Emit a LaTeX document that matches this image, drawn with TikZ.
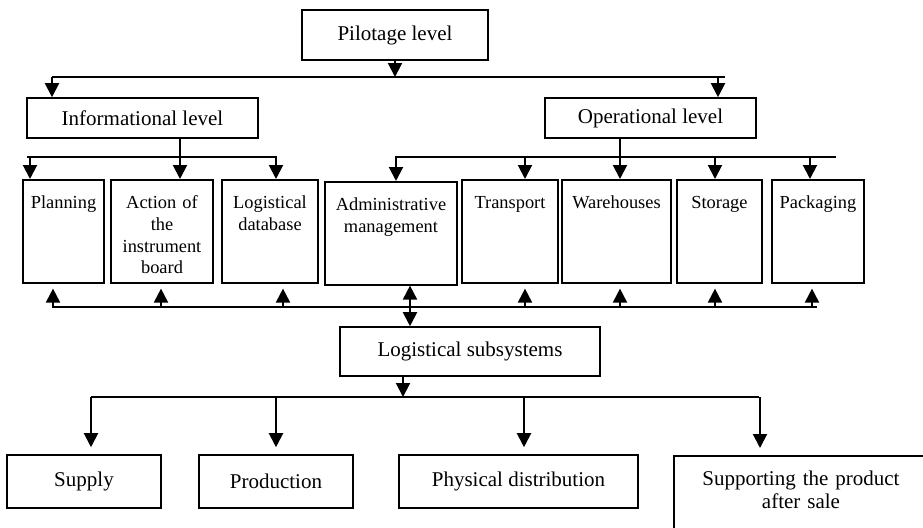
\documentclass[tikz,border=0pt]{standalone}
\usepackage{fontspec}
\setmainfont{Liberation Serif}
\usetikzlibrary{arrows.meta}

\tikzset{
  lvl/.style={draw, line width=0.8pt, align=center, inner sep=0pt,
    font=\fontsize{10.5}{11.5}\selectfont},
  unit/.style={draw, line width=0.8pt, anchor=north, align=center,
    inner xsep=1pt, inner ysep=4pt, text height=10.5pt, text depth=33pt,
    font=\fontsize{9.2}{10.8}\selectfont},
  bus/.style={line width=1pt},
  arr/.style={line width=1pt, -{Triangle[width=7pt,length=7pt]}},
}

\begin{document}
\begin{tikzpicture}[x=0.5pt,y=-0.5pt]
\clip (0,0) rectangle (923,527);

% levels
\node[lvl, minimum width=93pt, minimum height=25pt] (pilot) at (395,35) {Pilotage level};
\node[lvl, minimum width=115.5pt, minimum height=20pt] (info) at (142.5,118) {Informational level};
\node[lvl, minimum width=105.5pt, minimum height=20pt] (oper) at (650.5,118) {Operational level};

% units
\node[unit, text width=38.5pt] (plan) at (63.5,179) {Planning};
\node[unit, text width=49pt] (action) at (162,179) {Action of\\the\\instrument\\board};
\node[unit, text width=46pt] (logdb) at (270,179) {Logistical\\database};
\node[unit, text width=64pt] (admin) at (391,181) {Administrative\\management};
\node[unit, text width=46pt] (transp) at (510,179) {Transport};
\node[unit, text width=52.5pt] (wareh) at (616.5,179) {Warehouses};
\node[unit, text width=40.5pt] (stor) at (719.5,179) {Storage};
\node[unit, text width=44pt] (pack) at (818,179) {Packaging};

% subsystems
\node[lvl, minimum width=130pt, minimum height=24.5pt] (logsub) at (470,351.5) {Logistical subsystems};
\node[lvl, minimum width=77pt, minimum height=26.5pt] (supply) at (84,481.5) {Supply};
\node[lvl, minimum width=77pt, minimum height=26.5pt] (prod) at (276,481.5) {Production};
\node[lvl, minimum width=119.5pt, minimum height=26.5pt] (phys) at (518.5,481.5) {Physical distribution};
\node[lvl, anchor=north, text width=125pt, inner xsep=1pt, inner ysep=5pt,
  text height=10pt, text depth=50pt] (after) at (801,455) {Supporting the product\\after sale};

% pilotage bus
\coordinate (pb1) at (52,77);
\coordinate (pb2) at (725,77);
\coordinate (pb3) at (718,77);
\draw[bus] (pb1) -- (pb2);
\draw[arr] (pilot.south) -- (pilot.south |- pb1);
\draw[arr] (pb1) -- (pb1 |- info.north);
\draw[arr] (pb3) -- (pb3 |- oper.north);

% informational bus
\coordinate (ib1) at (27,157);
\coordinate (ib2) at (277,157);
\coordinate (ic) at (180,157);
\draw[bus] (ib1) -- (ib2);
\draw[arr] (ic |- info.south) -- (ic |- action.north);
\foreach \x/\n in {30/plan,276/logdb}{
  \coordinate (t) at (\x,157);
  \draw[arr] (t) -- (t |- \n.north);
}

% operational bus
\coordinate (ob1) at (395,157);
\coordinate (ob2) at (836,157);
\coordinate (oc) at (620,157);
\draw[bus] (ob1) -- (ob2);
\draw[arr] (oc |- oper.south) -- (oc |- wareh.north);
\foreach \x/\n in {396/admin,525/transp,715/stor,810/pack}{
  \coordinate (t) at (\x,157);
  \draw[arr] (t) -- (t |- \n.north);
}

% feedback bus
\coordinate (bb1) at (52,307);
\coordinate (bb2) at (817,307);
\coordinate (ad) at (410,307);
\draw[bus] (bb1) -- (bb2);
\foreach \x/\n in {53/plan,161/action,283/logdb,525/transp,620/wareh,715/stor,812/pack}{
  \coordinate (u) at (\x,307);
  \draw[arr, shorten >=2.5pt] (u) -- (u |- \n.south);
}
\draw[line width=1pt, {Triangle[width=7pt,length=7pt]}-{Triangle[width=7pt,length=7pt]}]
  (ad |- admin.south) -- (ad |- logsub.north);

% subsystem bus
\coordinate (sb) at (403,397);
\coordinate (sb1) at (91,397);
\coordinate (sb2) at (759,397);
\draw[arr] (sb |- logsub.south) -- (sb);
\draw[bus] (sb1) -- (sb2);
\foreach \x/\n in {91/supply,276/prod,524/phys,760/after}{
  \coordinate (s) at (\x,397);
  \draw[arr, shorten >=3.5pt] (s) -- (s |- \n.north);
}
\end{tikzpicture}
\end{document}
